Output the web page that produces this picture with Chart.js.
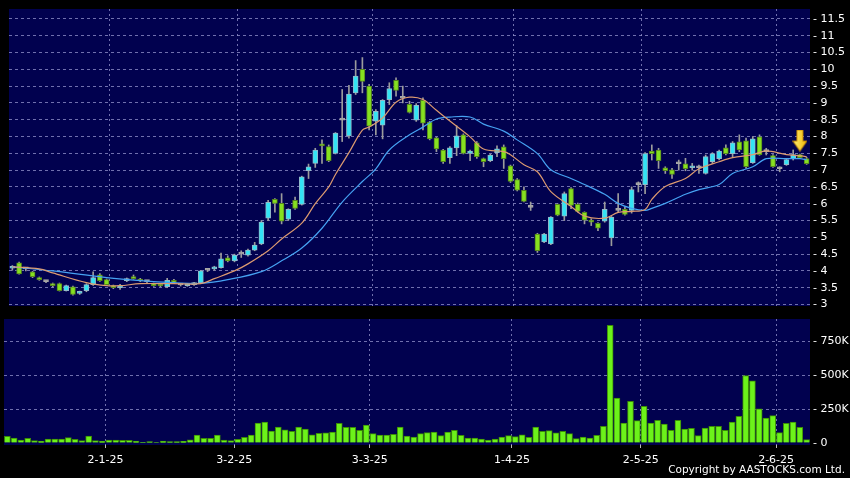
<!DOCTYPE html>
<html>
<head>
<meta charset="utf-8">
<script src="https://cdn.jsdelivr.net/npm/chart.js@4.4.1/dist/chart.umd.min.js"></script>
<style>
html, body { margin: 0; padding: 0; background: #000; width: 850px; height: 478px; overflow: hidden; }
#priceChart { position: absolute; left: 0; top: 0; }
#volChart { position: absolute; left: 0; top: 316px; }
#copy { position: absolute; right: 5px; top: 463px; font: 10.5px "DejaVu Sans", sans-serif; color: #fff; white-space: nowrap; }
</style>
</head>
<body>
<canvas id="priceChart" width="850" height="316"></canvas>
<canvas id="volChart" width="850" height="162"></canvas>
<div id="copy">Copyright by AASTOCKS.com Ltd.</div>
<script>
// daily candles
const opens = [
  4.08, 4.24, 4.06, 3.97, 3.80, 3.68, 3.62, 3.62, 3.41, 3.53, 3.33, 3.41, 3.59, 3.88, 3.74, 3.56, 3.50, 3.71, 3.83, 3.75,
  3.68, 3.62, 3.60, 3.53, 3.72, 3.58, 3.56, 3.59,
  3.65, 4.02, 4.06, 4.10, 4.39, 4.30, 4.50, 4.47, 4.62, 4.80, 5.57, 6.13, 6.01, 5.54, 6.10, 5.98, 6.98, 7.20, 7.78, 7.70,
  7.50, 8.49, 8.02, 9.30, 10.00, 9.50, 8.46, 8.34, 9.10, 9.67,
  9.14, 8.96, 8.49, 9.08, 8.43, 7.96, 7.60, 7.37, 7.66, 8.05, 7.50, 7.81, 7.34, 7.28, 7.52, 7.69, 7.13, 6.72, 6.40, 5.89,
  5.10, 4.86, 4.80, 5.98, 5.63, 6.45, 5.98, 5.74, 5.51, 5.42, 5.48, 4.98, 5.80, 5.83, 5.80, 6.57,
  6.57, 7.57, 7.60, 7.07, 7.01, 7.19, 7.19, 7.07, 7.07, 6.90, 7.25, 7.34, 7.66, 7.49, 7.84, 7.87, 7.22, 7.99, 7.55, 7.43,
  7.04, 7.16, 7.34, 7.46, 7.34
];
const highs = [
  4.16, 4.26, 4.10, 3.99, 3.82, 3.72, 3.64, 3.64, 3.58, 3.55, 3.40, 3.62, 3.97, 3.92, 3.76, 3.58, 3.60, 3.79, 3.88, 3.78,
  3.72, 3.64, 3.62, 3.78, 3.75, 3.62, 3.62, 3.66,
  4.02, 4.06, 4.14, 4.53, 4.45, 4.50, 4.60, 4.65, 4.85, 5.50, 6.10, 6.15, 6.30, 5.85, 6.20, 6.82, 7.18, 7.65, 7.90, 7.75,
  8.12, 9.40, 9.52, 10.26, 10.35, 9.55, 8.80, 9.10, 9.60, 9.75,
  9.50, 9.05, 8.98, 9.15, 8.45, 7.98, 7.62, 7.70, 8.32, 8.08, 7.60, 7.85, 7.36, 7.47, 7.72, 7.75, 7.15, 6.75, 6.50, 6.05,
  5.12, 5.12, 5.62, 6.00, 6.35, 6.48, 6.02, 5.76, 5.55, 5.44, 6.05, 5.62, 6.30, 5.90, 6.50, 6.65,
  7.52, 7.75, 7.65, 7.10, 7.05, 7.30, 7.35, 7.20, 7.15, 7.45, 7.52, 7.60, 7.75, 7.85, 8.05, 7.95, 8.00, 8.05, 7.65, 7.46,
  7.10, 7.33, 7.60, 7.48, 7.38
];
const lows = [
  4.02, 3.90, 4.00, 3.80, 3.72, 3.65, 3.52, 3.40, 3.40, 3.28, 3.30, 3.38, 3.57, 3.69, 3.57, 3.47, 3.45, 3.68, 3.75, 3.68,
  3.65, 3.54, 3.53, 3.50, 3.64, 3.55, 3.54, 3.57,
  3.63, 3.98, 4.02, 4.08, 4.27, 4.27, 4.40, 4.44, 4.60, 4.78, 5.50, 5.75, 5.40, 5.50, 5.83, 5.96, 6.75, 7.08, 7.20, 7.25,
  7.48, 7.85, 7.95, 9.25, 9.30, 8.20, 8.05, 7.93, 8.95, 9.20,
  9.00, 8.70, 8.45, 8.20, 7.90, 7.55, 7.20, 7.20, 7.43, 7.48, 7.28, 7.35, 7.10, 7.25, 7.40, 7.05, 6.63, 6.38, 6.05, 5.80,
  4.55, 4.84, 4.78, 5.64, 5.50, 5.85, 5.75, 5.40, 5.35, 5.20, 5.45, 4.75, 5.75, 5.66, 5.72, 6.35,
  6.30, 7.30, 7.05, 6.90, 6.75, 7.00, 6.98, 7.00, 6.90, 6.88, 7.20, 7.30, 7.45, 7.40, 7.55, 7.05, 7.20, 7.44, 7.45, 7.08,
  6.95, 7.14, 7.30, 7.35, 7.17
];
const closes = [
  4.12, 3.91, 4.06, 3.83, 3.74, 3.68, 3.56, 3.41, 3.56, 3.30, 3.37, 3.59, 3.80, 3.71, 3.59, 3.50, 3.56, 3.77, 3.77, 3.70,
  3.68, 3.56, 3.55, 3.72, 3.66, 3.58, 3.60, 3.63,
  4.00, 4.02, 4.10, 4.36, 4.30, 4.47, 4.50, 4.62, 4.77, 5.45, 6.04, 6.01, 5.48, 5.83, 5.86, 6.80, 7.10, 7.60, 7.72, 7.28,
  8.10, 8.49, 9.26, 9.80, 9.64, 8.31, 8.75, 9.08, 9.43, 9.37,
  9.14, 8.72, 8.93, 8.40, 7.93, 7.63, 7.25, 7.66, 8.02, 7.50, 7.57, 7.40, 7.25, 7.45, 7.63, 7.34, 6.66, 6.40, 6.07, 5.89,
  4.60, 5.10, 5.60, 5.66, 6.30, 5.95, 5.77, 5.51, 5.45, 5.27, 5.83, 5.60, 5.80, 5.68, 6.42, 6.57,
  7.49, 7.49, 7.28, 6.98, 6.87, 7.19, 7.04, 7.13, 7.07, 7.40, 7.49, 7.57, 7.49, 7.81, 7.60, 7.10, 7.93, 7.46, 7.55, 7.10,
  7.04, 7.31, 7.46, 7.37, 7.19
];
// volume in thousands of shares
const volK = [
  49, 37, 22, 34, 17, 15, 29, 29, 29, 39, 27, 17, 51, 17, 15, 22, 22, 20, 20, 15,
  5, 10, 2, 15, 10, 10, 12, 24, 59, 34, 34, 59, 22, 17, 27, 42, 59, 147, 154, 88,
  118, 96, 86, 118, 103, 61, 71, 74, 81, 145, 115, 115, 93, 132, 69, 59, 59, 64, 118, 51,
  44, 69, 76, 81, 54, 81, 93, 56, 37, 37, 29, 22, 29, 44, 54, 47, 61, 42, 118, 86,
  91, 74, 86, 69, 32, 44, 37, 56, 123, 865, 331, 147, 306, 164, 270, 147, 167, 140, 93, 167,
  103, 108, 54, 110, 123, 123, 93, 154, 196, 495, 458, 252, 184, 201, 76, 145, 154, 115, 25
];

// moving average lines at these candle positions
const maShortIdx = [0, 4, 6, 11, 14, 16, 19, 24, 28, 30, 33, 35, 38, 40, 43, 45, 47, 48, 50, 52, 53, 55, 57, 59, 61,
  63, 65, 68, 70, 73, 74, 76, 78, 80, 83, 85, 88, 90, 92, 94, 95, 97, 100, 102, 105, 107, 110, 112, 115, 117, 118];
const maShortVal = [4.12, 4.06, 3.94, 3.65, 3.56, 3.56, 3.62, 3.62, 3.62, 3.77, 4.0, 4.21, 4.6, 4.95, 5.42, 6.0, 6.5, 6.87,
  7.52, 8.19, 8.28, 8.55, 9.02, 9.17, 9.1, 8.78, 8.46, 7.99, 7.63, 7.55, 7.46, 7.16, 6.95, 6.36, 5.92, 5.63, 5.57, 5.74,
  5.77, 5.83, 6.13, 6.51, 6.75, 7.04, 7.25, 7.37, 7.46, 7.57, 7.46, 7.43, 7.4];
const maLongIdx = [0, 6, 14, 19, 24, 28, 32, 37, 40, 43, 46, 49, 52, 54, 56, 59, 61, 63, 65, 68, 70, 73, 75, 78, 80,
  83, 85, 88, 90, 92, 94, 95, 97, 100, 102, 105, 107, 110, 112, 115, 117, 118];
const maLongVal = [4.12, 4.0, 3.8, 3.71, 3.65, 3.63, 3.74, 3.98, 4.3, 4.68, 5.27, 6.05, 6.66, 7.04, 7.6, 8.05, 8.28, 8.52,
  8.58, 8.58, 8.37, 8.16, 7.9, 7.49, 7.01, 6.75, 6.57, 6.28, 6.01, 5.86, 5.8, 5.86, 6.01, 6.28, 6.42, 6.57, 6.9, 7.1,
  7.34, 7.34, 7.34, 7.31];

// marker arrow over the latest candles
const arrowIdx = 117;
const arrowVal = 7.88;

// axes
const cats = opens.map((_, i) => String(i));
const tickIdx = [15, 34, 54, 75, 94, 114];
const tickText = ['2-1-25', '3-2-25', '3-3-25', '1-4-25', '2-5-25', '2-6-25'];
const priceTicks = [3, 3.5, 4, 4.5, 5, 5.5, 6, 6.5, 7, 7.5, 8, 8.5, 9, 9.5, 10, 10.5, 11, 11.5];
const volTicks = [0, 250, 500, 750];

const NAVY = '#01014f';
const GRID = 'rgba(150,150,205,0.75)';
const UP = '#33e3f4', DOWN = '#86e020', FLAT = '#a8a8a8';

Chart.defaults.font.family = 'DejaVu Sans';
Chart.defaults.font.size = 11;
Chart.defaults.color = '#fff';

const panelBg = {
  id: 'panelBg',
  beforeDraw(chart) {
    const { ctx, chartArea: a } = chart;
    ctx.save();
    ctx.fillStyle = NAVY;
    ctx.fillRect(a.left, a.top, a.width, a.height);
    ctx.restore();
  }
};

function candleDir(i) {
  const d = closes[i] - opens[i];
  return d > 0 ? 1 : d < 0 ? -1 : 0;
}

function makeArrow() {
  const c = document.createElement('canvas');
  c.width = 15; c.height = 22;
  const g = c.getContext('2d');
  const grad = g.createLinearGradient(0, 0, 15, 0);
  grad.addColorStop(0, '#fff07a');
  grad.addColorStop(1, '#f0b400');
  g.beginPath();
  g.moveTo(4.5, 0.5); g.lineTo(10.5, 0.5); g.lineTo(10.5, 11.5); g.lineTo(14.5, 11.5);
  g.lineTo(7.5, 21.5); g.lineTo(0.5, 11.5); g.lineTo(4.5, 11.5); g.closePath();
  g.fillStyle = grad;
  g.fill();
  g.strokeStyle = '#c98a00';
  g.lineWidth = 1;
  g.stroke();
  return c;
}

const isDateTick = c => tickIdx.includes(c.index);

// right-hand value axis: fixed width, no extra label padding above/below the plot
function fitRightAxis(s) {
  s.width = 40;
  s.paddingTop = 0;
  s.paddingBottom = 0;
}

new Chart(document.getElementById('priceChart'), {
  type: 'bar',
  data: {
    labels: cats,
    datasets: [
      {
        type: 'line',
        data: [{ x: cats[arrowIdx], y: arrowVal }],
        showLine: false,
        pointStyle: makeArrow(),
        pointRadius: 8,
        order: 0
      },
      {
        type: 'line',
        data: maShortIdx.map((i, k) => ({ x: cats[i], y: maShortVal[k] })),
        borderColor: '#dc9a70',
        borderWidth: 1.2,
        pointRadius: 0,
        tension: 0.35,
        order: 1
      },
      {
        type: 'line',
        data: maLongIdx.map((i, k) => ({ x: cats[i], y: maLongVal[k] })),
        borderColor: '#46a2f2',
        borderWidth: 1.2,
        pointRadius: 0,
        tension: 0.35,
        order: 1
      },
      {
        data: opens.map((o, i) => [o, closes[i]]),
        grouped: false,
        barThickness: 5,
        minBarLength: 2,
        borderWidth: 1,
        borderSkipped: false,
        backgroundColor: c => [DOWN, FLAT, UP][candleDir(c.dataIndex) + 1],
        borderColor: c => ['#55861c', FLAT, '#93b9c8'][candleDir(c.dataIndex) + 1],
        order: 2
      },
      {
        data: lows.map((l, i) => [l, highs[i]]),
        grouped: false,
        barThickness: 1,
        backgroundColor: '#9c9c9c',
        order: 3
      }
    ]
  },
  options: {
    responsive: false,
    animation: false,
    events: [],
    layout: { padding: { left: 4, top: 6, right: 0, bottom: 10 } },
    plugins: { legend: { display: false }, tooltip: { enabled: false } },
    scales: {
      x: {
        type: 'category',
        offset: true,
        grid: { offset: true, drawTicks: false, color: c => isDateTick(c) ? GRID : 'transparent' },
        border: { display: false, dash: [2, 3] },
        ticks: { display: false },
        afterFit: s => { s.height = 0; }
      },
      y: {
        position: 'right',
        min: 2.956,
        max: 11.795,
        afterBuildTicks: s => { s.ticks = priceTicks.map(v => ({ value: v })); },
        afterFit: fitRightAxis,
        grid: { color: GRID, drawTicks: false },
        border: { display: false, dash: [3, 3] },
        ticks: { color: '#fff', padding: 3, callback: v => '- ' + v }
      }
    }
  },
  plugins: [panelBg]
});

new Chart(document.getElementById('volChart'), {
  type: 'bar',
  data: {
    labels: cats,
    datasets: [{
      data: volK,
      barThickness: 6,
      borderWidth: 1,
      borderColor: '#3c8c06',
      backgroundColor: '#6cf21a'
    }]
  },
  options: {
    responsive: false,
    animation: false,
    events: [],
    layout: { padding: { left: 4, top: 3, right: 0, bottom: 0 } },
    plugins: { legend: { display: false }, tooltip: { enabled: false } },
    scales: {
      x: {
        type: 'category',
        offset: true,
        grid: {
          offset: true,
          drawTicks: true,
          tickLength: 3,
          color: c => isDateTick(c) ? GRID : 'transparent',
          tickColor: c => isDateTick(c) ? '#bbbbbb' : 'transparent'
        },
        border: { display: false, dash: [2, 3] },
        ticks: {
          autoSkip: false,
          maxRotation: 0,
          padding: 6,
          labelOffset: -3.4,
          color: '#fff',
          callback: (v, i) => {
            const k = tickIdx.indexOf(i);
            return k < 0 ? '' : tickText[k];
          }
        },
        afterFit: s => { s.height = 33; s.paddingLeft = 0; s.paddingRight = 0; }
      },
      y: {
        position: 'right',
        min: -14.7,
        max: 912,
        afterBuildTicks: s => { s.ticks = volTicks.map(v => ({ value: v })); },
        afterFit: fitRightAxis,
        grid: { color: c => c.tick && c.tick.value === 0 ? 'transparent' : GRID, drawTicks: false },
        border: { display: false, dash: [3, 3] },
        ticks: { color: '#fff', padding: 3, callback: v => '- ' + (v === 0 ? '0' : v + 'K') }
      }
    }
  },
  plugins: [panelBg]
});
</script>
</body>
</html>
